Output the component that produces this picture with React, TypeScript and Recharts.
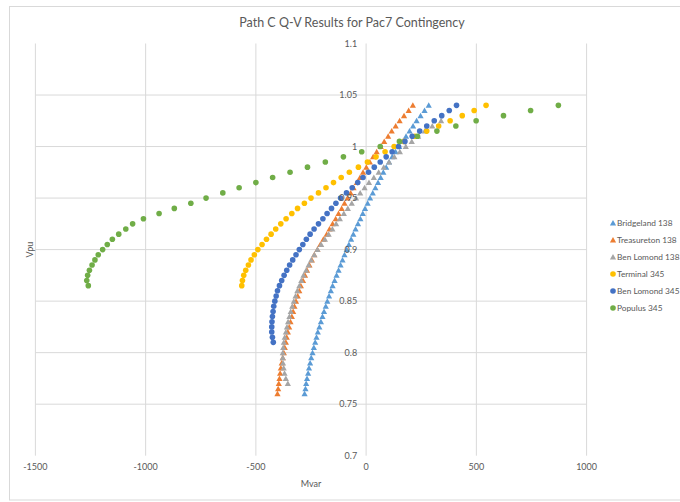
import React from 'react';
import { ScatterChart, Scatter, XAxis, YAxis, ReferenceLine, ReferenceDot, Legend } from 'recharts';

// Voltage levels (pu) shared by every series
const voltages = [
  0.76, 0.765, 0.77, 0.775, 0.78, 0.785, 0.79, 0.795, 0.8, 0.805,
  0.81, 0.815, 0.82, 0.825, 0.83, 0.835, 0.84, 0.845, 0.85, 0.855,
  0.86, 0.865, 0.87, 0.875, 0.88, 0.885, 0.89, 0.895, 0.9, 0.905,
  0.91, 0.915, 0.92, 0.925, 0.93, 0.935, 0.94, 0.945, 0.95, 0.955,
  0.96, 0.965, 0.97, 0.975, 0.98, 0.985, 0.99, 0.995, 1.0, 1.005,
  1.01, 1.015, 1.02, 1.025, 1.03, 1.035, 1.04,
];

// Mvar values, one per voltage level starting at the series' first voltage
const bridgelandQ = [
  -279, -275, -272, -268, -263, -259, -254, -249, -243,
  -237, -231, -225, -219, -212, -205, -198, -191, -183, -176,
  -168, -160, -152, -143, -134, -125, -116, -107, -98, -88,
  -78, -68, -58, -48, -37, -26, -15, -5, 7, 18,
  30, 42, 54, 66, 78, 91, 104, 118, 134, 150,
  166, 181, 197, 213, 229, 247, 265, 284,
];
const treasuretonQ = [
  -402, -399, -396, -393, -390, -387, -383, -378, -373,
  -369, -364, -360, -355, -349, -343, -337, -331, -325, -318,
  -310, -303, -296, -286, -277, -268, -257, -246, -235, -221,
  -208, -194, -179, -166, -152, -138, -125, -111, -98, -84,
  -70, -57, -42, -28, -14, 1, 17, 32, 48, 66,
  82, 100, 116, 134, 152, 172, 193, 212,
];
const benLomond138Q = [
  -355, -364, -370, -374, -377, -378, -378,
  -376, -373, -369, -364, -359, -354, -348, -342, -335, -328,
  -320, -312, -303, -294, -284, -272, -261, -249, -235, -221,
  -204, -187, -170, -153, -136, -119, -101, -83, -65, -46,
  -27, -7, 13, 35, 57, 80, 104, 128, 153, 180,
  207, 236, 266, 300, 340,
];
const terminalQ = [
  -564, -561, -555, -546, -534, -522, -507, -491,
  -472, -452, -431, -410, -387, -363, -337, -311, -280, -250,
  -216, -182, -148, -113, -76, -35, 6, 45, 86, 127,
  172, 222, 275, 329, 381, 436, 490, 544,
];
const benLomond345Q = [
  -421, -425, -428, -428, -427, -425, -422, -419, -414,
  -408, -402, -393, -383, -372, -360, -347, -333, -318, -303,
  -287, -271, -254, -236, -216, -196, -177, -157, -137, -116,
  -89, -63, -38, -14, 11, 37, 64, 91, 118, 147,
  176, 209, 243, 275, 309, 343, 377, 410,
];
const populusQ = [
  -1260, -1267, -1263, -1255, -1243, -1230, -1215, -1195,
  -1174, -1151, -1122, -1090, -1059, -1010, -939, -870, -795, -726,
  -650, -576, -500, -424, -345, -266, -185, -103, -20, 64,
  151, 233, 321, 407, 499, 623, 746, 872,
];

const seriesNames = ['Bridgeland 138', 'Treasureton 138', 'Ben Lomond 138', 'Terminal 345', 'Ben Lomond 345', 'Populus 345'];
const seriesColors = ['#5B9BD5', '#ED7D31', '#A5A5A5', '#FFC000', '#4472C4', '#70AD47'];
const seriesFirstVoltage = [0.76, 0.76, 0.77, 0.865, 0.81, 0.865];
const seriesMarkers = ['triangle', 'triangle', 'triangle', 'circle', 'circle', 'circle'];
const seriesQ = [bridgelandQ, treasuretonQ, benLomond138Q, terminalQ, benLomond345Q, populusQ];

const xTicks = [-1500, -1000, -500, 0, 500, 1000];
const xGrid = [-1500, -1000, -500, 500, 1000];
const yTicks = [0.7, 0.75, 0.8, 0.85, 0.9, 0.95, 1.0, 1.05, 1.1];
const yTickLabels = ['0.7', '0.75', '0.8', '0.85', '0.9', '0.95', '1', '1.05', '1.1'];
const yGrid = [0.75, 0.8, 0.85, 0.9, 0.95, 1.0, 1.05];

const title = 'Path C Q-V Results for Pac7 Contingency';
const xTitle = 'Mvar';
const yTitle = 'Vpu';

const FONT = 'Lato, "Open Sans", sans-serif';
const TEXT = '#595959';
const GRID = '#D9D9D9';

const buildSeries = (q: number[], firstV: number) => {
  const start = voltages.indexOf(firstV);
  return q.map((val, i) => ({ q: val, v: voltages[start + i] }));
};

const makeShape = (kind: string, color: string) => (props: any) => {
  const { cx, cy } = props;
  if (cx == null || cy == null) return <g />;
  if (kind === 'triangle') {
    return (
      <path
        d={`M${cx},${cy - 3}L${cx + 3.1},${cy + 2.5}L${cx - 3.1},${cy + 2.5}Z`}
        fill={color}
      />
    );
  }
  return <circle cx={cx} cy={cy} r={2.8} fill={color} />;
};

const LegendMarker = ({ kind, color }: { kind: string; color: string }) => (
  <svg width={8} height={8} style={{ display: 'block', flex: '0 0 8px' }}>
    {kind === 'triangle' ? (
      <path d="M4,1L7.1,6.5L0.9,6.5Z" fill={color} />
    ) : (
      <circle cx={4} cy={4} r={2.8} fill={color} />
    )}
  </svg>
);

const renderLegend = () => (
  <div style={{ fontFamily: FONT, fontSize: 8.3, color: TEXT }}>
    {seriesNames.map((name, i) => (
      <div
        key={name}
        style={{ height: 17, display: 'flex', alignItems: 'center', whiteSpace: 'nowrap' }}
      >
        <LegendMarker kind={seriesMarkers[i]} color={seriesColors[i]} />
        <span>{name}</span>
      </div>
    ))}
  </div>
);

export default function App() {
  return (
    <div style={{ position: 'absolute', left: 0, top: 0, width: 680, height: 502, background: '#fff', overflow: 'hidden' }}>
      <ScatterChart width={680} height={502} margin={{ top: 43.5, right: 93.4, bottom: 0, left: 35.4 }}>
        <XAxis
          type="number"
          dataKey="q"
          domain={[-1500, 1000]}
          ticks={xTicks}
          interval={0}
          allowDataOverflow
          axisLine={false}
          tickLine={false}
          height={46.3}
          tick={{ fontSize: 9, fill: TEXT, fontFamily: FONT }}
          label={{ value: xTitle, position: 'insideBottom', offset: 15.5, fontSize: 9, fill: TEXT, fontFamily: FONT }}
        />
        <YAxis type="number" dataKey="v" domain={[0.7, 1.1]} allowDataOverflow hide />
        {yGrid.map((v) => (
          <ReferenceLine key={`gy${v}`} y={v} stroke={GRID} strokeWidth={1} ifOverflow="visible" />
        ))}
        {xGrid.map((x) => (
          <ReferenceLine key={`gx${x}`} x={x} stroke={GRID} strokeWidth={1} ifOverflow="visible" />
        ))}
        <ReferenceLine x={0} stroke={GRID} strokeWidth={1} ifOverflow="visible" />
        {yTicks.map((v, i) => (
          <ReferenceDot
            key={`yt${v}`}
            x={0}
            y={v}
            r={0}
            fill="none"
            stroke="none"
            ifOverflow="visible"
            label={{ value: yTickLabels[i], position: 'left', offset: 9, fontSize: 9, fill: TEXT, fontFamily: FONT }}
          />
        ))}
        <Legend
          layout="vertical"
          align="center"
          verticalAlign="middle"
          wrapperStyle={{ left: 609, top: 214.5, width: 70, margin: 0 }}
          content={renderLegend}
        />
        {seriesNames.map((name, i) => (
          <Scatter
            key={name}
            name={name}
            data={buildSeries(seriesQ[i], seriesFirstVoltage[i])}
            fill={seriesColors[i]}
            shape={makeShape(seriesMarkers[i], seriesColors[i])}
            isAnimationActive={false}
          />
        ))}
      </ScatterChart>
      <svg
        width={680}
        height={502}
        style={{ position: 'absolute', left: 0, top: 0, pointerEvents: 'none' }}
      >
        <rect x={9.5} y={6.5} width={690} height={493.5} fill="none" stroke={GRID} strokeWidth={1} />
        <text x={352} y={22} textAnchor="middle" dominantBaseline="central" fontSize={12.5} fill={TEXT} fontFamily={FONT}>
          {title}
        </text>
        <text
          x={30}
          y={249.6}
          textAnchor="middle"
          dominantBaseline="central"
          fontSize={9}
          fill={TEXT}
          fontFamily={FONT}
          transform="rotate(-90 30 249.6)"
        >
          {yTitle}
        </text>
      </svg>
    </div>
  );
}
